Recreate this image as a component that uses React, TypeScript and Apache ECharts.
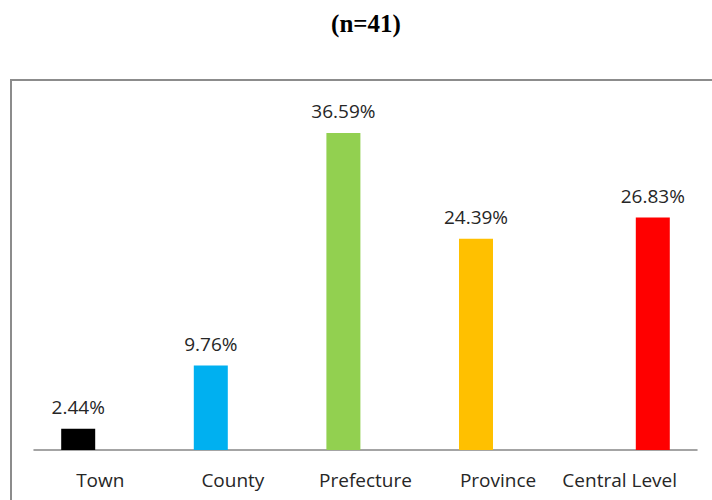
import React, { useEffect, useRef } from "react";
import * as echarts from "echarts";

const categories = ["Town", "County", "Prefecture", "Province", "Central Level"];
const values = [2.44, 9.76, 36.59, 24.39, 26.83];
// which clustered slot each bar occupies in the original chart (0 = first, 1 = second)
const slots = [0, 0, 0, 0, 1];
const barColors = ["#000000", "#00B0F0", "#92D050", "#FFC000", "#FF0000"];
const titleText = "(n=41)";

export default function App() {
  const ref = useRef<HTMLDivElement>(null);
  useEffect(() => {
    if (!ref.current) return;
    const chart = echarts.init(ref.current, null, { renderer: "svg" });
    const makeSeries = (slot: number) => ({
      type: "bar",
      barWidth: 34,
      barGap: "30%",
      data: values.map((v, i) =>
        slots[i] === slot ? { value: v, itemStyle: { color: barColors[i] } } : "-"
      ),
      label: {
        show: true,
        position: "top",
        distance: 12,
        formatter: (p: any) => p.value.toFixed(2) + "%",
        fontFamily: "Open Sans",
        fontSize: 19,
        color: "#262626",
      },
    });
    chart.setOption({
      animation: false,
      graphic: [
        {
          type: "rect",
          shape: { x: 11, y: 80, width: 740, height: 460 },
          style: { fill: "none", stroke: "#8c8c8c", lineWidth: 2 },
          silent: true,
        },
        {
          type: "text",
          x: 366,
          y: 23,
          style: {
            text: titleText,
            fontFamily: "Liberation Serif",
            fontWeight: "bold",
            fontSize: 25,
            fill: "#000",
            textAlign: "center",
            textVerticalAlign: "middle",
          },
        },
      ],
      grid: { left: 34, right: 15, bottom: 50, top: 103.4, containLabel: false },
      xAxis: {
        type: "category",
        data: categories.map((c, i) =>
          i === categories.length - 1
            ? { value: c, textStyle: { padding: [0, 22, 0, 0] } }
            : c
        ),
        axisLine: { lineStyle: { color: "#868686", width: 1.5 } },
        axisTick: { show: false },
        axisLabel: {
          interval: 0,
          margin: 20,
          fontFamily: "Open Sans",
          fontSize: 19,
          color: "#262626",
        },
      },
      yAxis: {
        type: "value",
        min: 0,
        max: 40,
        show: false,
        splitLine: { show: false },
      },
      series: [makeSeries(0), makeSeries(1)],
    });
    return () => chart.dispose();
  }, []);
  return (
    <div
      ref={ref}
      style={{ position: "fixed", left: 0, top: 0, width: 712, height: 500, background: "#fff" }}
    />
  );
}
